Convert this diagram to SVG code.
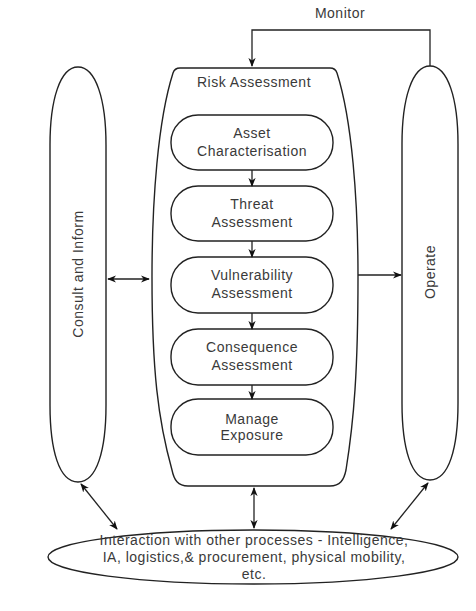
<svg xmlns="http://www.w3.org/2000/svg" width="476" height="611" viewBox="0 0 476 611">
  <defs>
    <marker id="arrow" viewBox="0 0 10 10" refX="9" refY="5" markerWidth="9" markerHeight="9" orient="auto-start-reverse" markerUnits="userSpaceOnUse">
      <path d="M0,1 L10,5 L0,9 L3,5 Z" fill="#111"/>
    </marker>
  </defs>
  <style>
    .shape { fill: #fff; stroke: #222; stroke-width: 1.4; }
    .line { fill: none; stroke: #222; stroke-width: 1.3; }
    text { font-family: "Liberation Sans", Arial, sans-serif; font-size: 14px; fill: #3a3a3a; letter-spacing: 0.5px; text-anchor: middle; }
  </style>
  <rect width="476" height="611" fill="#fff"/>

  <!-- side process columns -->
  <g id="consult">
    <path class="shape" d="M78,67 C96,67 106,100 106,145 L106,405 C106,450 97,482 78,482 C59,482 50,450 50,405 L50,145 C50,100 60,67 78,67 Z"/>
    <text transform="translate(83,274) rotate(-90)">Consult and Inform</text>
  </g>
  <g id="operate">
    <path class="shape" d="M430,66 C448,66 458,99 458,144 L458,403 C458,448 449,480 430,480 C411,480 402,448 402,403 L402,144 C402,99 412,66 430,66 Z"/>
    <text transform="translate(435,272) rotate(-90)">Operate</text>
  </g>

  <!-- risk assessment container -->
  <g id="risk-assessment">
    <path class="shape" d="M180,68 L330,68 C334,68 336,70 337,73 C352,120 358,200 358,277 C358,370 354,420 346,470 C344,480 340,486 330,486 L188,486 C178,486 174,480 172,470 C158,420 152,370 152,277 C152,200 158,120 173,73 C174,70 176,68 180,68 Z"/>
    <text x="254" y="87">Risk Assessment</text>
  </g>
  <g id="asset">
    <rect class="shape" x="171" y="115" width="162" height="55" rx="27"/>
    <text x="252" y="138">Asset</text>
    <text x="252" y="156">Characterisation</text>
  </g>
  <g id="threat">
    <rect class="shape" x="171" y="186" width="162" height="55" rx="27"/>
    <text x="252" y="209">Threat</text>
    <text x="252" y="227">Assessment</text>
  </g>
  <g id="vulnerability">
    <rect class="shape" x="171" y="257" width="162" height="56" rx="27"/>
    <text x="252" y="280">Vulnerability</text>
    <text x="252" y="298">Assessment</text>
  </g>
  <g id="consequence">
    <rect class="shape" x="171" y="329" width="162" height="56" rx="27"/>
    <text x="252" y="352">Consequence</text>
    <text x="252" y="370">Assessment</text>
  </g>
  <g id="manage">
    <rect class="shape" x="171" y="399" width="162" height="56" rx="27"/>
    <text x="252" y="424">Manage</text>
    <text x="252" y="440">Exposure</text>
  </g>

  <!-- interaction with other processes -->
  <g id="interaction">
    <ellipse class="shape" cx="253" cy="557" rx="205" ry="27"/>
    <text x="254" y="545">Interaction with other processes - Intelligence,</text>
    <text x="254" y="562">IA, logistics,&amp; procurement, physical mobility,</text>
    <text x="254" y="579">etc.</text>
  </g>

  <!-- connectors -->
  <g id="connectors">
    <text x="340" y="18">Monitor</text>
    <path class="line" d="M430,66 L430,30 L252,30 L252,66" marker-end="url(#arrow)"/>
    <line class="line" x1="252" y1="170" x2="252" y2="186" marker-end="url(#arrow)"/>
    <line class="line" x1="252" y1="241" x2="252" y2="257" marker-end="url(#arrow)"/>
    <line class="line" x1="252" y1="313" x2="252" y2="329" marker-end="url(#arrow)"/>
    <line class="line" x1="252" y1="385" x2="252" y2="399" marker-end="url(#arrow)"/>
    <line class="line" x1="108" y1="279" x2="149" y2="279" marker-start="url(#arrow)" marker-end="url(#arrow)"/>
    <line class="line" x1="358" y1="275" x2="401" y2="275" marker-end="url(#arrow)"/>
    <line class="line" x1="254" y1="488" x2="254" y2="528" marker-start="url(#arrow)" marker-end="url(#arrow)"/>
    <line class="line" x1="81" y1="484" x2="117" y2="529" marker-start="url(#arrow)" marker-end="url(#arrow)"/>
    <line class="line" x1="428" y1="483" x2="391" y2="529" marker-start="url(#arrow)" marker-end="url(#arrow)"/>
  </g>
</svg>
